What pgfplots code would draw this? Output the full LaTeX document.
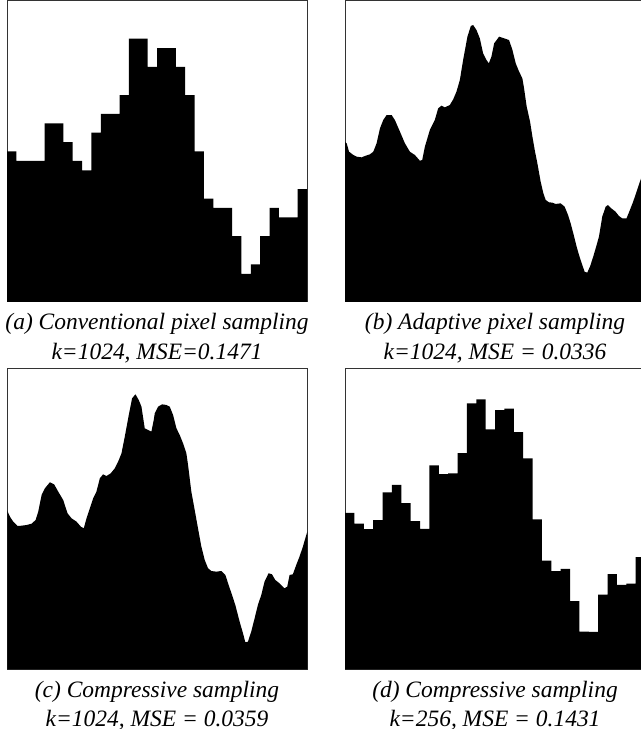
\documentclass[border=0pt]{standalone}
\usepackage{pgfplots}
\pgfplotsset{compat=1.18}
\usepackage{fontspec}
\setmainfont{Liberation Serif}
\begin{document}
\begin{tikzpicture}
\pgfplotsset{panel/.style={anchor=south west, scale only axis, width=225pt, height=225.75pt,
  xmin=0, xmax=32, ymin=0, ymax=32, ticks=none,
  axis line style={line width=0.75pt, black!80}}}
% (a)
\begin{axis}[panel, at={(5.25pt,320.25pt)}]
\addplot[fill=black, draw=none, const plot] coordinates {
(0,16)(1,15)(2,15)(3,15)(4,19)(5,19)(6,17)(7,15)(8,14)(9,18)(10,20)(11,20)(12,22)(13,28)(14,28)(15,25)
(16,27)(17,27)(18,25)(19,22)(20,16)(21,11)(22,10)(23,10)(24,7)(25,3)(26,4)(27,7)(28,10)(29,9)(30,9)(31,12)(32,12)
} \closedcycle;
\end{axis}
% (b)
\begin{axis}[panel, at={(258.75pt,320.25pt)}]
\addplot[fill=black, draw=none] coordinates {
(0,17.0)(0.18,16.87)(0.43,15.98)(0.89,15.63)(1.24,15.45)(1.77,15.38)(2.13,15.52)(2.66,15.70)(3.02,15.98)(3.37,16.87)(3.73,18.46)(4.08,19.35)(4.44,19.88)(4.97,19.88)(5.32,19.35)(5.86,18.11)(6.39,16.87)(6.92,15.98)(7.45,15.63)(7.99,15.02)(8.24,15.10)(8.52,16.51)(9.05,18.28)(9.58,19.35)(9.94,20.59)(10.29,20.87)(10.65,20.69)(11.18,20.94)(11.54,21.54)(11.89,22.36)(12.25,23.60)(12.60,25.73)(13.06,28.21)(13.42,29.34)(13.67,29.45)(14.02,28.92)(14.38,28.03)(14.73,26.44)(15.09,25.73)(15.34,25.37)(15.62,26.08)(15.91,27.50)(16.44,28.21)(16.97,28.03)(17.50,27.85)(17.86,26.79)(18.21,25.37)(18.57,24.49)(18.92,23.78)(19.10,22.71)(19.38,20.77)(19.74,19.17)(19.99,17.58)(20.27,15.98)(20.52,14.74)(20.87,12.79)(21.16,11.55)(21.41,10.84)(21.76,10.60)(22.12,10.56)(22.47,10.42)(23.00,10.49)(23.43,10.13)(23.79,9.25)(24.07,8.36)(24.35,7.30)(24.71,5.88)(24.96,5.00)(25.31,3.93)(25.56,3.22)(25.84,3.12)(26.13,3.76)(26.48,4.82)(26.84,6.06)(27.09,6.95)(27.44,9.07)(27.80,10.13)(28.05,10.31)(28.40,9.96)(28.86,9.60)(29.22,9.14)(29.57,8.89)(30.03,8.89)(30.39,9.78)(30.74,10.67)(31.10,11.73)(31.52,12.97)(32,14.3)
} \closedcycle;
\end{axis}
% (c)
\begin{axis}[panel, at={(5.475pt,44.775pt)}]
\addplot[fill=black, draw=none] coordinates {
(0,16.9)(0.04,16.76)(0.28,16.23)(0.64,15.69)(1.10,15.23)(1.53,15.27)(2.06,15.34)(2.59,15.48)(3.02,15.87)(3.30,16.76)(3.66,18.53)(4.01,19.24)(4.54,19.88)(5.00,19.66)(5.43,18.89)(5.96,18.00)(6.43,16.58)(6.85,16.05)(7.38,15.70)(7.85,15.16)(8.16,14.99)(8.45,16.05)(8.80,17.11)(9.16,18.18)(9.51,18.89)(9.87,20.31)(10.22,20.73)(10.58,20.55)(11.04,20.84)(11.47,21.37)(11.82,22.07)(12.18,22.96)(12.53,24.73)(12.96,27.04)(13.31,28.81)(13.67,29.24)(14.02,28.63)(14.31,27.92)(14.66,25.62)(15.02,25.44)(15.37,25.27)(15.62,26.51)(15.73,27.21)(16.08,27.92)(16.51,28.17)(16.97,28.10)(17.33,27.92)(17.68,27.04)(18.04,25.62)(18.39,24.91)(18.75,24.02)(19.10,22.96)(19.28,21.72)(19.63,18.89)(19.99,16.93)(20.34,14.99)(20.70,13.04)(21.06,11.62)(21.41,10.74)(21.77,10.45)(22.30,10.38)(22.83,10.45)(23.26,10.03)(23.61,8.96)(23.97,7.90)(24.32,6.84)(24.78,5.07)(25.14,3.83)(25.39,2.87)(25.67,2.94)(26.02,4.00)(26.38,5.42)(26.73,6.84)(27.09,7.90)(27.44,9.32)(27.87,10.21)(28.23,10.10)(28.58,9.50)(29.04,9.14)(29.57,8.61)(29.86,8.79)(30.11,10.03)(30.46,10.10)(30.82,11.09)(31.17,11.98)(31.53,13.04)(31.89,14.28)(32,14.63)
} \closedcycle;
\end{axis}
% (d)
\begin{axis}[panel, at={(258.75pt,44.775pt)}]
\addplot[fill=black, draw=none, const plot] coordinates {
(0,16.64)(1,15.50)(2,14.90)(3,15.86)(4,18.80)(5,19.62)(6,17.67)(7,15.75)(8,14.93)(9,21.67)(10,20.75)(11,20.82)(12,22.99)(13,28.27)(14,28.70)(15,25.51)
(16,27.56)(17,27.70)(18,25.22)(19,22.42)(20,15.93)(21,11.56)(22,10.43)(23,10.68)(24,7.24)(25,4.01)(26,3.97)(27,7.95)(28,10.11)(29,8.97)(30,9.12)(31,11.92)(32,11.92)
} \closedcycle;
\end{axis}
\begin{scope}[every node/.style={anchor=base, inner sep=0pt, font=\fontsize{17.6pt}{21pt}\selectfont\itshape}]
\node at (117.75pt,299.25pt) {(a) Conventional pixel sampling};
\node at (117.75pt,277.4pt) {k=1024, MSE=0.1471};
\node at (371.25pt,299.25pt) {(b) Adaptive pixel sampling};
\node at (371.25pt,277.4pt) {k=1024, MSE = 0.0336};
\node at (117.75pt,23.775pt) {(c) Compressive sampling};
\node at (117.75pt,2.2pt) {k=1024, MSE = 0.0359};
\node at (371.25pt,23.775pt) {(d) Compressive sampling};
\node at (371.25pt,2.2pt) {k=256, MSE = 0.1431};
\end{scope}
\pgfresetboundingbox
\useasboundingbox (0pt,0pt) rectangle (480.75pt,546.75pt);
\end{tikzpicture}
\end{document}
